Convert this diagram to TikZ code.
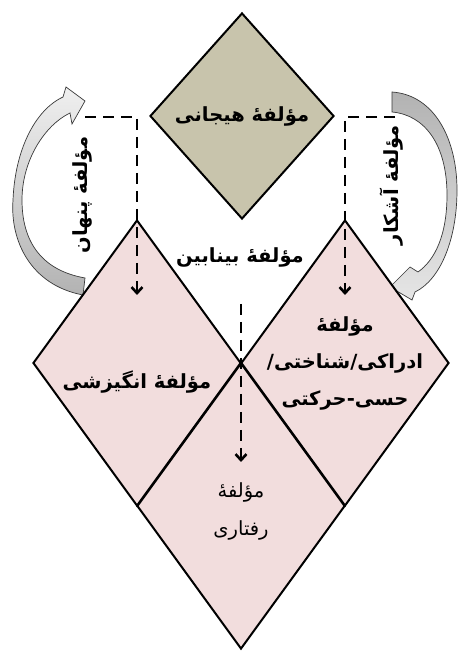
\documentclass[tikz,border=0pt]{standalone}
\usepackage{fontspec}
\usetikzlibrary{shapes.geometric,arrows.meta}
\newfontfamily\arabicfont[Script=Arabic]{DejaVu Sans}
\TeXXeTstate=1
\newcommand{\rtl}[1]{\beginR #1\endR}
\definecolor{hayajan}{RGB}{200,196,172}
\definecolor{rosa}{RGB}{242,221,221}
\tikzset{
  raute/.style={diamond,draw=black,line width=2pt,inner sep=0pt,
    minimum width=208pt,minimum height=286pt,fill=rosa},
  schrift/.style={font=\arabicfont\bfseries\fontsize{19.5}{37}\selectfont,align=center},
  duenn/.style={font=\arabicfont\fontsize{19.5}{38}\selectfont,align=center},
  strich/.style={draw=black,line width=2.6pt,dash pattern=on 11pt off 7pt,
    -{Straight Barb[length=6pt,width=11pt]}},
  bogen/.style={draw=gray!45!black,line width=0.7pt}
}
\begin{document}
\begin{tikzpicture}[x=1pt,y=1pt]
\useasboundingbox (0,0) rectangle (458,653);
%Pfeile
	\path[bogen,top color=gray!12,bottom color=gray!60]
	  (83,358) .. controls (30,368) and (10,413) .. (13,453)
	  .. controls (15,503) and (35,543) .. (63,556)
	  -- (66,566) -- (85,552) -- (72,529) -- (70,540)
	  .. controls (45,528) and (22,493) .. (22,453)
	  .. controls (22,413) and (40,383) .. (85,375) -- cycle;
	\path[bogen,top color=gray!60,bottom color=gray!20]
	  (392,561) .. controls (435,558) and (457,513) .. (457,463)
	  .. controls (457,413) and (440,373) .. (415,361)
	  -- (412,353) -- (390,366) -- (410,386) -- (418,381)
	  .. controls (435,393) and (447,418) .. (447,458)
	  .. controls (447,508) and (425,538) .. (392,541) -- cycle;
%Rauten
	\node[raute,fill=hayajan,minimum width=184pt,minimum height=206pt] (hayajani) at (242,537) {};
	\node[raute] (angize) at (137,290) {};
	\node[raute] (edraki) at (345,290) {};
	\node[raute] (raftari) at (241,147) {};
%Beschriftung
	\node[schrift] (t-hayajani) at (hayajani.center) {\rtl{مؤلفهٔ هیجانی}};
	\node[schrift,rotate=90] (t-pinhan) at (82,458) {\rtl{مؤلفهٔ پنهان}};
	\node[schrift,rotate=90] (t-ashkar) at (392,468) {\rtl{مؤلفهٔ آشکار}};
	\node[schrift] (t-binabin) at (240,396) {\rtl{مؤلفهٔ بینابین}};
	\node[schrift] (t-angize) at ([yshift=-19pt]angize.center) {\rtl{مؤلفهٔ انگیزشی}};
	\node[schrift] (t-edraki) at (edraki.center)
	  {\rtl{مؤلفهٔ}\\\rtl{ادراکی/شناختی/}\\\rtl{حسی-حرکتی}};
	\node[duenn] (t-raftari) at ([yshift=-5pt]raftari.center)
	  {\rtl{مؤلفهٔ}\\\rtl{رفتاری}};
%gestrichelte Pfeile
	\coordinate (pinhan-s) at (85,536);
	\coordinate (pinhan-e) at ([yshift=68pt]angize.center);
	\draw[strich] (pinhan-s) -| (pinhan-e);
	\coordinate (ashkar-s) at (395,536);
	\coordinate (ashkar-e) at ([yshift=68pt]edraki.center);
	\draw[strich] (ashkar-s) -| (ashkar-e);
	\coordinate (binabin-s) at ([yshift=58pt]raftari.north);
	\coordinate (binabin-e) at ([yshift=-100pt]raftari.north);
	\draw[strich] (binabin-s) -- (binabin-e);
\end{tikzpicture}
\end{document}
